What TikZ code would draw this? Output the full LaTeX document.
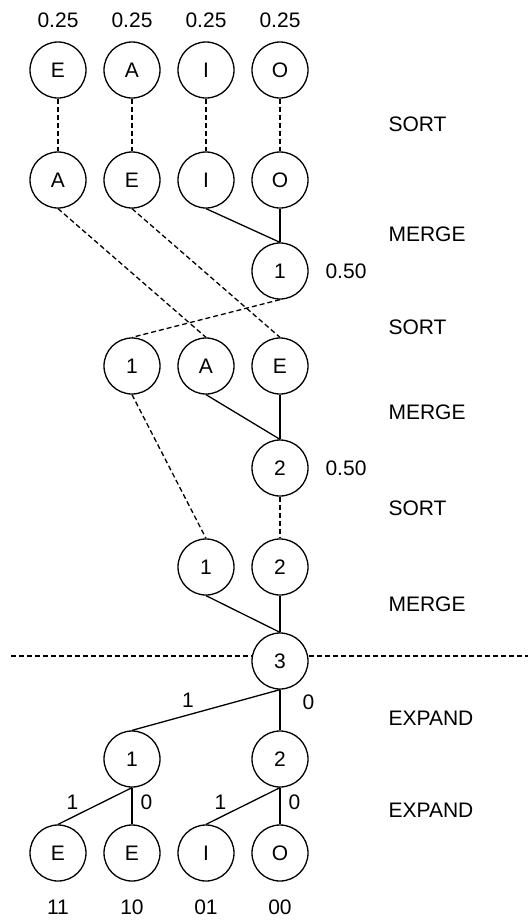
\documentclass[tikz,border=0pt]{standalone}
\usepackage{fontspec}
\setmainfont{Liberation Sans}
\usetikzlibrary{positioning}

\begin{document}
\begin{tikzpicture}[x=1pt, y=-1pt, node distance=74pt, font=\fontsize{21}{25}\selectfont]
 % We define the styles for the symbols and the links
 \tikzset{
symbol/.style = {draw, circle, line width=1.3pt, minimum size=56pt, inner sep=0pt},
sortline/.style = {draw, line width=1.3pt, dash pattern=on 5pt off 3pt},
mergeline/.style = {draw, line width=1.3pt},
steplabel/.style = {anchor=west},
bitlabel/.style = {inner sep=2pt},
}
 \useasboundingbox (0,0) rectangle (528,922);

 % Input symbols and their probabilities
 \node [symbol] (e0) at (58,70) {E};
 \node [symbol, right of=e0] (a0) {A};
 \node [symbol, right of=a0] (i0) {I};
 \node [symbol, right of=i0] (o0) {O};
 \node [above of=e0, node distance=50pt] (pe0) {0.25};
 \node [above of=a0, node distance=50pt] (pa0) {0.25};
 \node [above of=i0, node distance=50pt] (pi0) {0.25};
 \node [above of=o0, node distance=50pt] (po0) {0.25};

 % Sorted symbols
 \node [symbol] (a1) at (58,180) {A};
 \node [symbol, right of=a1] (e1) {E};
 \node [symbol, right of=e1] (i1) {I};
 \node [symbol, right of=i1] (o1) {O};

 % First merge
 \node [symbol] (m1) at (280,271) {1};
 \node [right of=m1, node distance=66pt] (pm1) {0.50};

 % Second sort and merge
 \node [symbol] (s1) at (132,366) {1};
 \node [symbol, right of=s1] (a2) {A};
 \node [symbol, right of=a2] (e2) {E};
 \node [symbol] (m2) at (280,468) {2};
 \node [right of=m2, node distance=66pt] (pm2) {0.50};

 % Third sort and merge
 \node [symbol] (s2) at (206,567) {1};
 \node [symbol, right of=s2] (t2) {2};
 \node [symbol] (root) at (280,661) {3};

 % Expansion into codes
 \node [symbol] (x1) at (132,759) {1};
 \node [symbol] (x2) at (280,759) {2};
 \node [symbol] (l1) at (58,853) {E};
 \node [symbol, right of=l1] (l2) {E};
 \node [symbol, right of=l2] (l3) {I};
 \node [symbol, right of=l3] (l4) {O};
 \node [below of=l1, node distance=54pt] (c1) {11};
 \node [below of=l2, node distance=54pt] (c2) {10};
 \node [below of=l3, node distance=54pt] (c3) {01};
 \node [below of=l4, node distance=54pt] (c4) {00};

 % Step names
 \node [steplabel] (sort1) at (385,124) {SORT};
 \node [steplabel] (merge1) at (385,234) {MERGE};
 \node [steplabel] (sort2) at (385,327) {SORT};
 \node [steplabel] (merge2) at (385,412) {MERGE};
 \node [steplabel] (sort3) at (385,508) {SORT};
 \node [steplabel] (merge3) at (385,604) {MERGE};
 \node [steplabel] (expand1) at (385,718) {EXPAND};
 \node [steplabel] (expand2) at (385,810) {EXPAND};

 % Sorting links
 \draw [sortline] (e0.south) -- (a1.north);
 \draw [sortline] (a0.south) -- (e1.north);
 \draw [sortline] (i0.south) -- (i1.north);
 \draw [sortline] (o0.south) -- (o1.north);
 \draw [sortline] (a1.south) -- (a2.north);
 \draw [sortline] (e1.south) -- (e2.north);
 \draw [sortline] (m1.south) -- (s1.north);
 \draw [sortline] (s1.south) -- (s2.north);
 \draw [sortline] (m2.south) -- (t2.north);

 % Merging links
 \draw [mergeline] (i1.south) -- (m1.north);
 \draw [mergeline] (o1.south) -- (m1.north);
 \draw [mergeline] (a2.south) -- (m2.north);
 \draw [mergeline] (e2.south) -- (m2.north);
 \draw [mergeline] (s2.south) -- (root.north);
 \draw [mergeline] (t2.south) -- (root.north);

 % Separator between building and expanding
 \coordinate (cutl) at (11,656);
 \coordinate (cutr) at (528,656);
 \draw [sortline] (cutl) -- (cutl -| root.west);
 \draw [sortline] (cutr -| root.east) -- (cutr);

 % Expansion links with their bits
 \draw [mergeline] (root.south) -- (x1.north) node[bitlabel, midway, above, xshift=-18pt] {1};
 \draw [mergeline] (root.south) -- (x2.north) node[bitlabel, pos=0.3, right, xshift=20pt] {0};
 \draw [mergeline] (x1.south) -- (l1.north) node[bitlabel, midway, left, xshift=-14pt, yshift=4pt] {1};
 \draw [mergeline] (x1.south) -- (l2.north) node[bitlabel, midway, right, xshift=6pt, yshift=4pt] {0};
 \draw [mergeline] (x2.south) -- (l3.north) node[bitlabel, midway, left, xshift=-14pt, yshift=4pt] {1};
 \draw [mergeline] (x2.south) -- (l4.north) node[bitlabel, midway, right, xshift=6pt, yshift=4pt] {0};

\end{tikzpicture}
\end{document}
